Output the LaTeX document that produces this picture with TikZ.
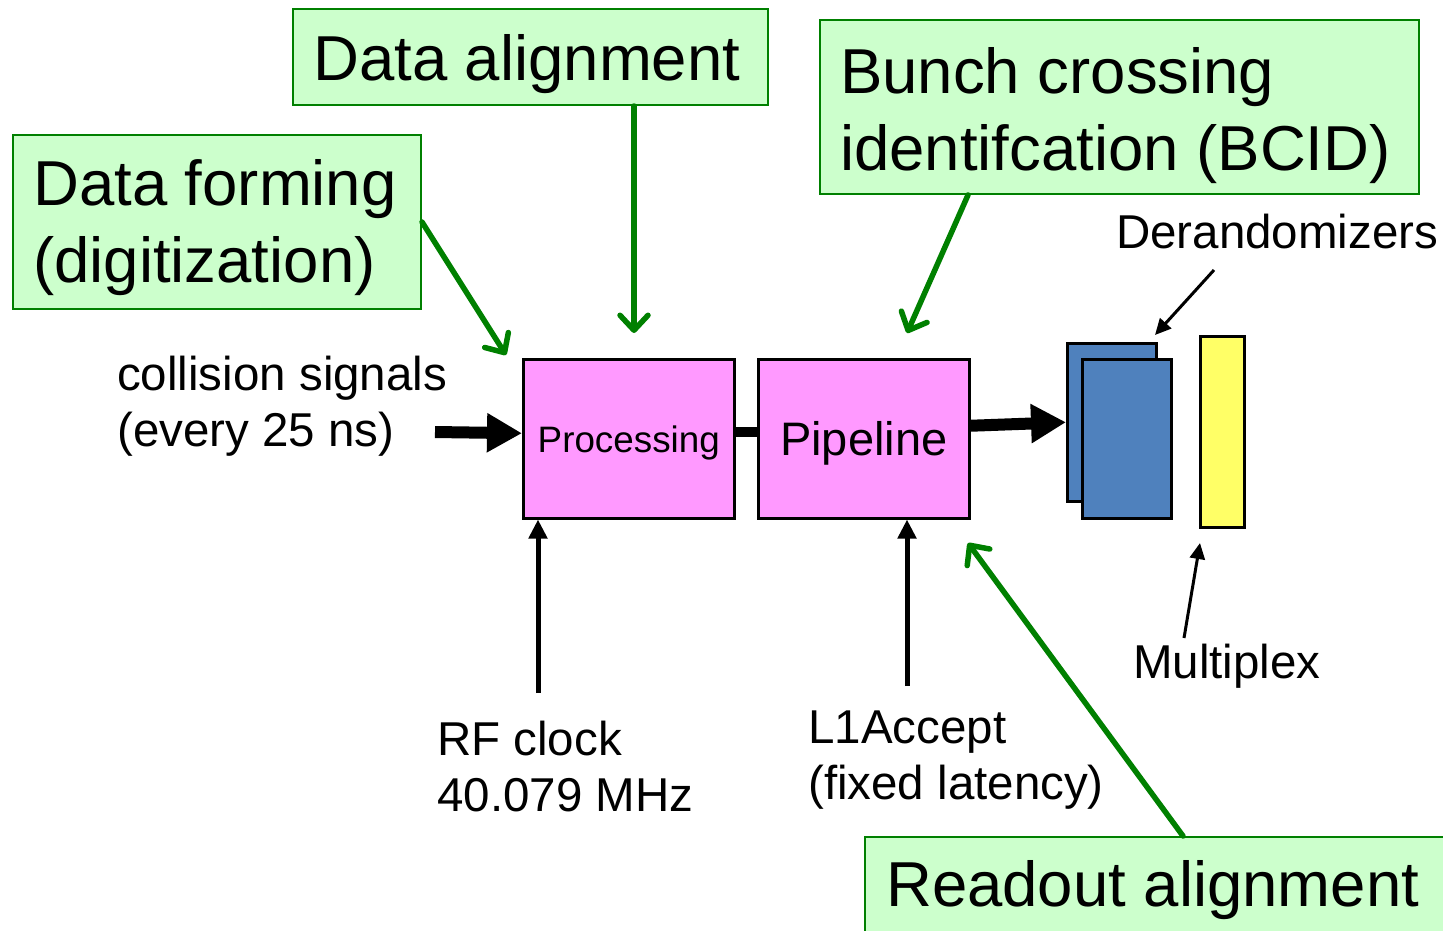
\documentclass[tikz,border=0pt]{standalone}
\usepackage{fontspec}
\setmainfont{Liberation Sans}
\usetikzlibrary{arrows.meta,calc}
\definecolor{gfill}{HTML}{CCFFCC}
\definecolor{gline}{HTML}{008000}
\definecolor{pinkf}{HTML}{FF99FF}
\definecolor{bluef}{HTML}{4F81BD}
\definecolor{yellf}{HTML}{FFFF66}
\begin{document}
\begin{tikzpicture}[x=1pt,y=-1pt,
  gbox/.style={draw=gline,fill=gfill,line width=2pt,anchor=north west,inner sep=0pt},
  big/.style={font=\fontsize{63.5}{77}\selectfont,anchor=base west,inner sep=0pt,align=left},
  med/.style={font=\fontsize{47.5}{56}\selectfont,anchor=base west,inner sep=0pt,align=left},
  blk/.style={draw=black,line width=2.5pt,anchor=north west,inner sep=0pt},
  garrow/.style={draw=gline,line width=5.5pt,line cap=round,-{Straight Barb[length=15pt,width=28pt,round]}},
  tarrow/.style={draw=black,line width=5pt,-{Triangle[length=19pt,width=18pt]}},
  fatarrow/.style={draw=black,line width=12pt,-{Triangle[length=35pt,width=37pt]}},
  slimarrow/.style={draw=black,line width=3pt,-{Triangle[length=16pt,width=15pt]}},
]
\useasboundingbox (0,0) rectangle (1443,930);
\clip (0,0) rectangle (1443,930);

% green annotation boxes
\node[gbox,minimum width=408pt,minimum height=174pt] (df) at (12,134) {};
\node[big] (dft) at (33,282) {Data forming\\(digitization)};
\node[gbox,minimum width=475pt,minimum height=96pt] (da) at (292,8) {};
\node[big] (dat) at (313,80) {Data alignment};
\node[gbox,minimum width=599pt,minimum height=174pt] (bc) at (819,19) {};
\node[big] (bct) at (840,170) {Bunch crossing\\identifcation (BCID)};
\node[gbox,minimum width=620pt,minimum height=130pt] (ra) at (864,836) {};
\node[big] (rat) at (886,906) {Readout alignment};

% main blocks
\node[blk,fill=pinkf,minimum width=211pt,minimum height=159pt,
      font=\fontsize{36.8}{44}\selectfont,text depth=0pt] (proc) at (522,358) {Processing};
\node[blk,fill=pinkf,minimum width=211pt,minimum height=159pt,
      font=\fontsize{47}{56}\selectfont,text depth=0pt] (pipe) at (757,358) {Pipeline};
\node[blk,fill=bluef,minimum width=89pt,minimum height=158pt] (der1) at (1066,342) {};
\node[blk,fill=bluef,minimum width=89pt,minimum height=159pt] (der2) at (1081,358) {};
\node[blk,fill=yellf,minimum width=44pt,minimum height=191pt] (mux) at (1199,335) {};

% labels
\node[med] (coll) at (117,446) {collision signals\\(every 25 ns)};
\node[med] (rfl) at (437,811) {RF clock\\40.079 MHz};
\node[med] (l1l) at (808,799) {L1Accept\\(fixed latency)};
\node[med] (derl) at (1116,248) {Derandomizers};
\node[med] (muxl) at (1133,678) {Multiplex};

% coordinates
\coordinate (cin) at (435,432);
\coordinate (rfs) at (538,693);
\coordinate (l1s) at (907,686);
\coordinate (ds) at (1214,270);
\coordinate (dt) at (1155,335);
\coordinate (ms) at (1184,638);
\coordinate (mt) at (1200,543);
\coordinate (g1) at (506,355);
\coordinate (g2) at (634,333);
\coordinate (g3s) at (968,0);
\coordinate (g3) at (907,333);
\coordinate (g4s) at (1183,0);
\coordinate (g4) at (968,543);

% black connectors
\draw[fatarrow] (cin) -- ([yshift=5.5pt]proc.west);
\draw[black,line width=10pt] ([yshift=7pt]proc.east) -- ([yshift=7pt]pipe.west);
\draw[fatarrow] ([yshift=13pt]pipe.east) -- (der1.west);
\draw[tarrow] (rfs) -- (rfs |- proc.south);
\draw[tarrow] (l1s) -- (l1s |- pipe.south);
\draw[slimarrow] (ds) -- (dt);
\draw[slimarrow] (ms) -- (mt);

% green annotation arrows
\draw[garrow] (df.east) -- (g1);
\draw[garrow] (da.south -| g2) -- (g2);
\draw[garrow] (bc.south -| g3s) -- (g3);
\draw[garrow] (ra.north -| g4s) -- (g4);
\end{tikzpicture}
\end{document}
